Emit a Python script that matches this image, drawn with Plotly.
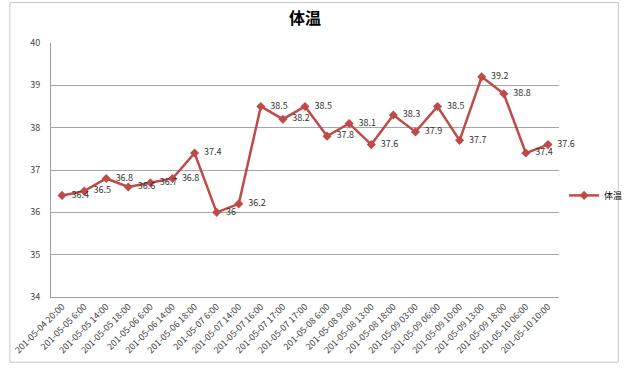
import plotly.graph_objects as go

times = ["201-05-04 20:00", "201-05-05 6:00", "201-05-05 14:00", "201-05-05 18:00",
         "201-05-06 6:00", "201-05-06 14:00", "201-05-06 18:00", "201-05-07 6:00",
         "201-05-07 14:00", "201-05-07 16:00", "201-05-07 17:00", "201-05-07 17:00",
         "201-05-08 6:00", "201-05-08 9:00", "201-05-08 13:00", "201-05-08 18:00",
         "201-05-09 03:00", "201-05-09 06:00", "201-05-09 10:00", "201-05-09 13:00",
         "201-05-09 18:00", "201-05-10 06:00", "201-05-10 10:00"]
temps = [36.4, 36.5, 36.8, 36.6, 36.7, 36.8, 37.4, 36, 36.2, 38.5, 38.2, 38.5,
         37.8, 38.1, 37.6, 38.3, 37.9, 38.5, 37.7, 39.2, 38.8, 37.4, 37.6]
y_ticks = [34, 35, 36, 37, 38, 39, 40]

idx = list(range(len(times)))
color = "#BE4B48"
font_family = "Noto Sans CJK JP, Noto Sans, DejaVu Sans"

fig = go.Figure()
fig.add_trace(go.Scatter(
    x=idx, y=temps, mode="lines+markers+text", name="体温",
    line=dict(color=color, width=2.5),
    marker=dict(symbol="diamond", size=7, color=color),
    text=["\u00a0\u00a0" + f"{v:g}" for v in temps], textposition="middle right",
    textfont=dict(size=9, color="#333333", family=font_family),
    cliponaxis=False,
))

fig.update_layout(
    width=640, height=368,
    margin=dict(l=44, r=65, t=43, b=68),
    paper_bgcolor="white", plot_bgcolor="white",
    font=dict(family=font_family, size=9, color="#333333"),
    title=dict(text="<b>体温</b>", x=0.5, xref="paper", y=0.95, yanchor="middle",
               font=dict(size=16, color="#000000", family=font_family)),
    showlegend=True,
    legend=dict(x=1.01, y=0.40, xanchor="left", yanchor="middle",
                font=dict(size=9, color="#000000"), bgcolor="rgba(0,0,0,0)"),
    xaxis=dict(tickvals=idx, ticktext=times, tickangle=-45, range=[-0.5, len(times) - 0.5],
               showgrid=False, showline=True, linecolor="#A0A0A0", linewidth=1,
               ticks="", tickfont=dict(size=9, color="#444444"), zeroline=False),
    yaxis=dict(range=[34, 40], tickvals=y_ticks, showgrid=True, gridcolor="#A6A6A6",
               gridwidth=1, showline=True, linecolor="#A0A0A0", linewidth=1,
               ticks="", tickfont=dict(size=9, color="#444444"), zeroline=False,
               ticklabelstandoff=8),
    shapes=[dict(type="rect", xref="paper", yref="paper", x0=-43/531, x1=1 + 62/531,
                 y0=-66/257, y1=1 + 41/257, line=dict(color="#C8C8C8", width=1))],
)

fig.write_html("out.html")
